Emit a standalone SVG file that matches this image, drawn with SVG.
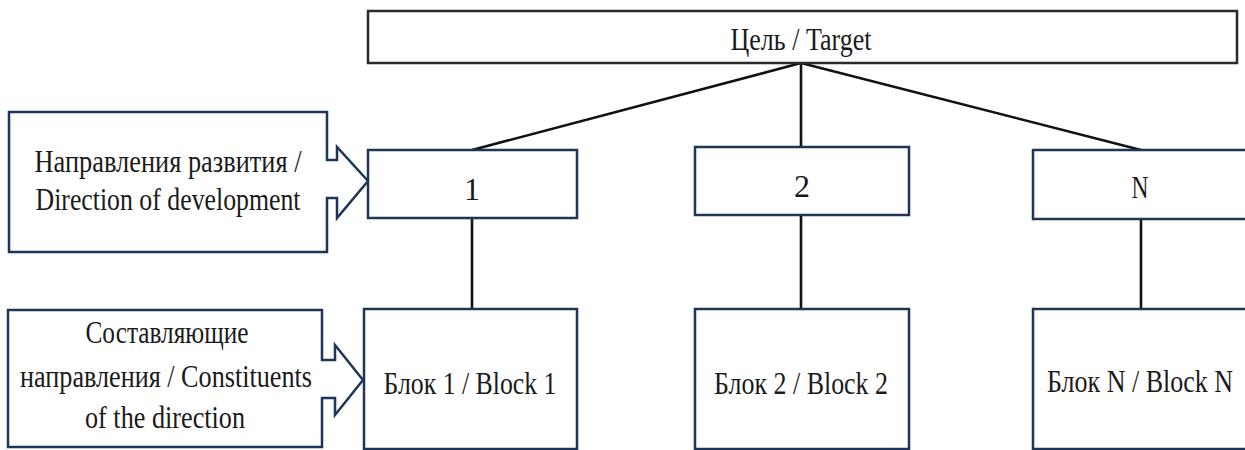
<svg xmlns="http://www.w3.org/2000/svg" width="1245" height="450" viewBox="0 0 1245 450">
<style>
.bg{fill:#ffffff}
.node{fill:#ffffff;stroke:#1f3557;stroke-width:2.5}
.top{fill:#ffffff;stroke:#2a2a2a;stroke-width:2.5}
.conn{stroke:#111111;stroke-width:2.6;fill:none}
text{font-family:"Liberation Serif","Times New Roman",serif;fill:#1a1a1a;text-anchor:middle}
.t{font-size:32px}
</style>
<rect class="bg" x="0" y="0" width="1245" height="450"/>
<g id="connectors">
<line class="conn" x1="801" y1="63" x2="472" y2="150"/>
<line class="conn" x1="801" y1="63" x2="801" y2="147"/>
<line class="conn" x1="801" y1="63" x2="1141" y2="150"/>
<line class="conn" x1="472" y1="218" x2="472" y2="309"/>
<line class="conn" x1="801" y1="215" x2="801" y2="309"/>
<line class="conn" x1="1141" y1="219" x2="1141" y2="309"/>
</g>
<g id="target">
<rect class="top" x="368" y="11" width="869" height="52"/>
<text class="t" x="801" y="50" font-size="30" textLength="141" lengthAdjust="spacingAndGlyphs">Цель / Target</text>
</g>
<g id="dir1">
<rect class="node" x="368" y="150" width="209" height="68"/>
<text class="t" x="472" y="200">1</text>
</g>
<g id="dir2">
<rect class="node" x="695" y="147" width="214" height="68"/>
<text class="t" x="802" y="197">2</text>
</g>
<g id="dirN">
<rect class="node" x="1033" y="150" width="230" height="69"/>
<text class="t" x="1140" y="198" textLength="17" lengthAdjust="spacingAndGlyphs">N</text>
</g>
<g id="block1">
<rect class="node" x="364" y="309" width="213" height="140"/>
<text class="t" x="470" y="394" textLength="173" lengthAdjust="spacingAndGlyphs">Блок 1 / Block 1</text>
</g>
<g id="block2">
<rect class="node" x="695" y="309" width="214" height="140"/>
<text class="t" x="801" y="394" textLength="174" lengthAdjust="spacingAndGlyphs">Блок 2 / Block 2</text>
</g>
<g id="blockN">
<rect class="node" x="1033" y="309" width="230" height="140"/>
<text class="t" x="1140" y="392" textLength="186" lengthAdjust="spacingAndGlyphs">Блок N / Block N</text>
</g>
<g id="callout-direction">
<path class="node" d="M9,112 H327 V160 H337 V147 L368,181 L337,218 V198 H327 V252 H9 Z"/>
<text class="t" x="168" y="172" textLength="267" lengthAdjust="spacingAndGlyphs">Направления развития /</text>
<text class="t" x="168" y="210" textLength="265" lengthAdjust="spacingAndGlyphs">Direction of development</text>
</g>
<g id="callout-constituents">
<path class="node" d="M8,310 H322 V360 H335 V345 L363,380 L335,415 V398 H322 V447 H8 Z"/>
<text class="t" x="167" y="343" textLength="163" lengthAdjust="spacingAndGlyphs">Составляющие</text>
<text class="t" x="166" y="387" textLength="292" lengthAdjust="spacingAndGlyphs">направления / Constituents</text>
<text class="t" x="165" y="428" textLength="160" lengthAdjust="spacingAndGlyphs">of the direction</text>
</g>
</svg>
